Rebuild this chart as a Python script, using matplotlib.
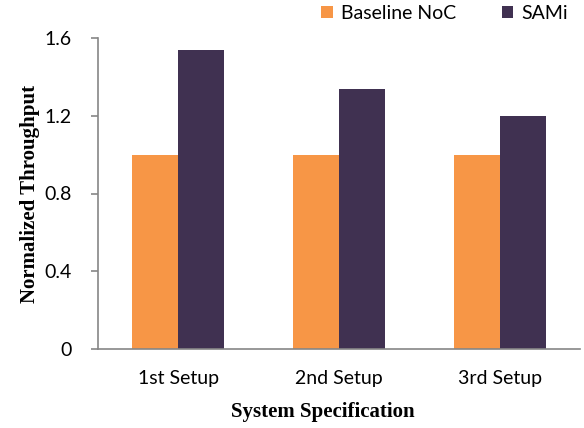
import numpy as np
import matplotlib.pyplot as plt

setups = ["1st Setup", "2nd Setup", "3rd Setup"]
baseline = [1.0, 1.0, 1.0]
sami = [1.54, 1.34, 1.20]
yticks = [0, 0.4, 0.8, 1.2, 1.6]
ytick_labels = ["0", "0.4", "0.8", "1.2", "1.6"]

tick_font = "Lato"
label_font = "Liberation Serif"
axis_grey = "#868686"

fig = plt.figure(figsize=(5.84, 4.28), dpi=100)
ax = fig.add_axes([98 / 584, 1 - 349 / 428, (580 - 98) / 584, (349 - 38) / 428])

x = np.arange(len(setups))
w = 0.287
ax.bar(x - w / 2, baseline, w, color="#F79646", label="Baseline NoC")
ax.bar(x + w / 2, sami, w, color="#403151", label="SAMi")

ax.set_xlim(-0.5, 2.5)
ax.set_ylim(0, 1.6)
ax.set_yticks(yticks)
ax.set_yticklabels(ytick_labels, fontfamily=tick_font, fontsize=14)
ax.set_xticks(x)
ax.set_xticklabels(setups, fontfamily=tick_font, fontsize=14)

for side in ["top", "right"]:
    ax.spines[side].set_visible(False)
for side in ["left", "bottom"]:
    ax.spines[side].set_color(axis_grey)
    ax.spines[side].set_linewidth(1.2)
ax.tick_params(axis="y", direction="out", length=5, color=axis_grey, width=1.2, pad=14)
ax.tick_params(axis="x", length=0, pad=15)

ax.set_xlabel("System Specification", fontfamily=label_font, fontweight="bold",
              fontsize=15, labelpad=9)
ax.xaxis.set_label_coords(0.467, -0.172)
ax.set_ylabel("Normalized Throughput", fontfamily=label_font, fontweight="bold",
              fontsize=15, labelpad=3)

leg = fig.legend(loc="upper right", bbox_to_anchor=(1.002, 1.03), ncol=2, frameon=False,
                 prop={"family": tick_font, "size": 14}, handlelength=0.6,
                 handleheight=0.6, handletextpad=0.4, columnspacing=2.35)

fig.savefig("out.png", dpi=100)
